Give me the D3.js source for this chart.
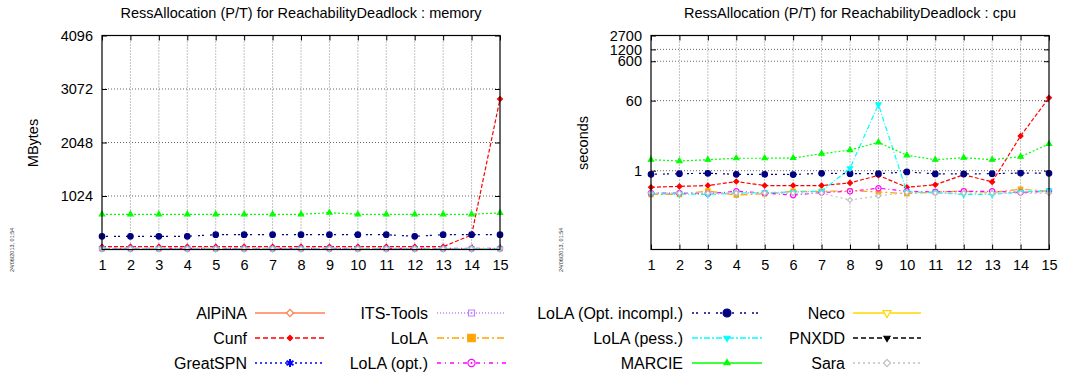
<!DOCTYPE html>
<html>
<head>
<meta charset="utf-8">
<script src="https://cdn.jsdelivr.net/npm/d3@7"></script>
<style>
body { margin: 0; background: #fff; }
text { font-family: "Liberation Sans", Arial, Helvetica, sans-serif; }
</style>
</head>
<body>
<div id="chart"></div>
<script>
// model sizes (x axis)
var sizes = [1, 2, 3, 4, 5, 6, 7, 8, 9, 10, 11, 12, 13, 14, 15];

var toolNames = ["AlPiNA", "Cunf", "GreatSPN", "ITS-Tools", "LoLA", "LoLA (opt.)",
    "LoLA (Opt. incompl.)", "LoLA (pess.)", "MARCIE", "Neco", "PNXDD", "Sara"];

// memory (MBytes)
var memCunf = [54, 54, 54, 54, 54, 54, 54, 54, 54, 54, 54, 54, 54, 277, 2880];
var memLoLA = [12, 12, 12, 12, 12, 12, 12, 12, 12, 12, 12, 12, 12, 12, 12];
var memLoLAopt = [20, 20, 20, 20, 20, 20, 20, 20, 20, 20, 20, 20, 20, 20, 20];
var memLoLAincompl = [253, 253, 253, 253, 283, 283, 283, 283, 283, 283, 283, 253, 283, 283, 283];
var memLoLApess = [12, 12, 12, 12, 12, 12, 12, 12, 12, 12, 12, 12, 12, 12, 12];
var memMARCIE = [674, 674, 674, 674, 674, 674, 674, 674, 704, 674, 674, 674, 674, 674, 700];
var memSara = [16, 16, 16, 16, 16, 16, 16, 16, 16, 16, 16, 16, 16, 16, 16];

// cpu (seconds)
var cpuCunf = [0.38, 0.40, 0.42, 0.53, 0.42, 0.42, 0.42, 0.49, 0.76, 0.38, 0.44, 0.79, 0.52, 7.6, 71];
var cpuLoLA = [0.25, 0.25, 0.305, 0.24, 0.26, 0.30, 0.30, 0.31, 0.29, 0.26, 0.29, 0.30, 0.28, 0.34, 0.30];
var cpuLoLAopt = [0.27, 0.27, 0.26, 0.30, 0.27, 0.24, 0.28, 0.30, 0.36, 0.30, 0.29, 0.30, 0.30, 0.28, 0.30];
var cpuLoLAincompl = [0.81, 0.84, 0.86, 0.81, 0.81, 0.80, 0.86, 0.84, 0.84, 0.93, 0.83, 0.83, 0.84, 0.87, 0.86];
var cpuLoLApess = [0.257, 0.257, 0.25, 0.27, 0.277, 0.288, 0.30, 1.15, 48, 0.29, 0.277, 0.25, 0.25, 0.29, 0.31];
var cpuMARCIE = [1.90, 1.76, 1.90, 2.07, 2.07, 2.10, 2.70, 3.35, 5.25, 2.46, 1.90, 2.14, 1.90, 2.27, 4.76];
var cpuSara = [0.27, 0.27, 0.27, 0.27, 0.27, 0.27, 0.27, 0.18, 0.23, 0.28, 0.27, 0.27, 0.27, 0.27, 0.27];

var memTicks = [1024, 2048, 3072, 4096];
var cpuTicks = [1, 60, 600, 1200, 2700];
var stamp = "24/06/2013, 01:54";

// look of each tool: color, dash in plot, dash in legend, marker, marker sizes (plot / legend)
var styles = {
    "AlPiNA": { color: "#ff7f50", dash: null, ldash: null, sym: "diamond", fill: false, ps: 12, ls: 25 },
    "Cunf": { color: "#ff0000", dash: "4,2", ldash: "5,3", sym: "diamond", fill: true, ps: 12, ls: 14 },
    "GreatSPN": { color: "#0000ff", dash: "2,3", ldash: "2,3", sym: "asterisk", fill: true, ps: 20, ls: 45 },
    "ITS-Tools": { color: "#c080ff", dash: "1,2", ldash: "1,2", sym: "square", fill: false, dot: true, ps: 16, ls: 36 },
    "LoLA": { color: "#ffa500", dash: "7,3,2,3", ldash: "7,3,2,3", sym: "square", fill: true, ps: 18, ls: 56 },
    "LoLA (opt.)": { color: "#ff00ff", dash: "4,3,1,3", ldash: "4,4,1,4", sym: "circle", fill: false, dot: true, ps: 22, ls: 40 },
    "LoLA (Opt. incompl.)": { color: "#000080", dash: "2,2,2,6", ldash: "2,2,2,6", sym: "circle", fill: true, ps: 24, ls: 50 },
    "LoLA (pess.)": { color: "#00ffff", dash: "5,2,1,2", ldash: "6,2,2,2", sym: "tridown", fill: true, ps: 12, ls: 16 },
    "MARCIE": { color: "#00ff00", dash: "2,2", ldash: null, sym: "triangle", fill: true, ps: 12, ls: 16 },
    "Neco": { color: "#ffd700", dash: null, ldash: null, sym: "tridown", fill: false, ps: 16, ls: 28 },
    "PNXDD": { color: "#000000", dash: "5,3", ldash: "5,3", sym: "tridown", fill: true, ps: 12, ls: 16 },
    "Sara": { color: "#c0c0c0", dash: "2,3", ldash: "2,3", sym: "diamond", fill: false, ps: 12, ls: 25 }
};

var memData = {
    "Cunf": memCunf, "LoLA": memLoLA, "LoLA (opt.)": memLoLAopt,
    "LoLA (Opt. incompl.)": memLoLAincompl, "LoLA (pess.)": memLoLApess,
    "MARCIE": memMARCIE, "Sara": memSara
};
var cpuData = {
    "Cunf": cpuCunf, "LoLA": cpuLoLA, "LoLA (opt.)": cpuLoLAopt,
    "LoLA (Opt. incompl.)": cpuLoLAincompl, "LoLA (pess.)": cpuLoLApess,
    "MARCIE": cpuMARCIE, "Sara": cpuSara
};

var svg = d3.select("#chart").append("svg")
    .attr("width", 1081)
    .attr("height", 378);

function symbolPath(name, size) {
    // gnuplot diamonds are squares turned 45 degrees
    var t = { diamond: d3.symbolSquare, square: d3.symbolSquare, circle: d3.symbolCircle,
        triangle: d3.symbolTriangle, tridown: d3.symbolTriangle, asterisk: d3.symbolAsterisk }[name];
    return d3.symbol().type(t).size(size)();
}

function drawMarker(g, st, x, y, size) {
    var rot = st.sym == "tridown" ? " rotate(180)" : st.sym == "diamond" ? " rotate(45)" : "";
    g.append("path")
        .attr("d", symbolPath(st.sym, size))
        .attr("transform", `translate(${x},${y})` + rot)
        .attr("stroke", st.color)
        .attr("stroke-width", st.sym == "asterisk" ? 2 : 1.2)
        .attr("fill", st.fill && st.sym != "asterisk" ? st.color : "#fff");
    if (st.dot) {
        g.append("circle").attr("cx", x).attr("cy", y).attr("r", 1).attr("fill", st.color);
    }
}

function drawChart(opt) {
    var left = opt.left, right = opt.right, top = 35.5, bottom = 249.5;
    var g = svg.append("g");

    var x = d3.scaleLinear().domain([1, 15]).range([left, right]);
    var y = opt.y.range([bottom, top]);

    // grid
    g.selectAll(".vgrid").data(sizes.slice(1, -1)).enter().append("line")
        .attr("x1", d => x(d)).attr("x2", d => x(d))
        .attr("y1", top).attr("y2", bottom)
        .attr("stroke", "#888").attr("stroke-dasharray", "1,2");
    g.selectAll(".hgrid").data(opt.ticks.slice(0, -1)).enter().append("line")
        .attr("x1", left).attr("x2", right)
        .attr("y1", d => y(d)).attr("y2", d => y(d))
        .attr("stroke", "#666").attr("stroke-dasharray", "1,2");

    // axes
    var bx = g.append("g").attr("transform", `translate(0,${bottom})`)
        .call(d3.axisBottom(x).tickValues(sizes).tickSize(-5).tickPadding(10).tickFormat(d3.format("d")));
    var tx = g.append("g").attr("transform", `translate(0,${top})`)
        .call(d3.axisTop(x).tickValues(sizes).tickSize(-5).tickFormat(""));
    var ly = g.append("g").attr("transform", `translate(${left},0)`)
        .call(d3.axisLeft(y).tickValues(opt.ticks).tickSize(-5).tickPadding(9).tickFormat(d3.format("d")));
    var ry = g.append("g").attr("transform", `translate(${right},0)`)
        .call(d3.axisRight(y).tickValues(opt.ticks).tickSize(-5).tickFormat(""));
    [bx, tx, ly, ry].forEach(function(a) {
        a.select(".domain").remove();
        a.selectAll("line").attr("stroke", "#000");
        a.selectAll("text").attr("font-size", "14.5px").attr("fill", "#000")
            .style("font-family", "'Liberation Sans', Arial, sans-serif");
    });

    // series
    toolNames.forEach(function(name) {
        var vals = opt.data[name];
        if (!vals) return;
        var st = styles[name];
        var line = d3.line().x((d, i) => x(sizes[i])).y(d => y(d));
        g.append("path").datum(vals)
            .attr("d", line)
            .attr("fill", "none")
            .attr("stroke", st.color)
            .attr("stroke-width", 1.2)
            .attr("stroke-dasharray", st.dash);
        vals.forEach(function(v, i) {
            drawMarker(g, st, x(sizes[i]), y(v), st.ps);
        });
    });

    // frame
    g.append("rect")
        .attr("x", left).attr("y", top)
        .attr("width", right - left).attr("height", bottom - top)
        .attr("fill", "none").attr("stroke", "#000").attr("stroke-width", 1.2);

    // titles
    g.append("text")
        .attr("x", (left + right) / 2).attr("y", 18)
        .attr("text-anchor", "middle")
        .attr("font-size", "14.5px")
        .text(opt.title);
    g.append("text")
        .attr("transform", `translate(${opt.labelX},143) rotate(-90)`)
        .attr("text-anchor", "middle")
        .attr("dy", "0.35em")
        .attr("font-size", "14.5px")
        .text(opt.label);
    g.append("text")
        .attr("transform", `translate(${opt.stampX},272) rotate(-90)`)
        .attr("font-size", "5.5px")
        .attr("fill", "#333")
        .text(stamp);
}

drawChart({
    left: 102, right: 500, labelX: 33, stampX: 14,
    y: d3.scaleLinear().domain([0, 4096]),
    ticks: memTicks, data: memData,
    title: "RessAllocation (P/T) for ReachabilityDeadlock : memory",
    label: "MBytes"
});

drawChart({
    left: 651, right: 1049, labelX: 583, stampX: 563,
    y: d3.scaleLog().domain([0.01, 2700]),
    ticks: cpuTicks, data: cpuData,
    title: "RessAllocation (P/T) for ReachabilityDeadlock : cpu",
    label: "seconds"
});

// legend, 4 columns of 3
var legCols = [{ tx: 247, x1: 255, x2: 325 }, { tx: 428, x1: 437, x2: 506 },
    { tx: 683, x1: 692, x2: 762 }, { tx: 845, x1: 853, x2: 921 }];
var legRows = [313, 338, 363];

var legend = svg.append("g");
toolNames.forEach(function(name, i) {
    var c = legCols[Math.floor(i / 3)], yy = legRows[i % 3];
    var st = styles[name];
    legend.append("text")
        .attr("x", c.tx).attr("y", yy)
        .attr("dy", "0.35em")
        .attr("text-anchor", "end")
        .attr("font-size", "16px")
        .text(name);
    legend.append("line")
        .attr("x1", c.x1).attr("x2", c.x2)
        .attr("y1", yy).attr("y2", yy)
        .attr("stroke", st.color)
        .attr("stroke-width", 1.6)
        .attr("stroke-dasharray", st.ldash);
    drawMarker(legend, st, (c.x1 + c.x2) / 2, yy, st.ls);
});
</script>
</body>
</html>
